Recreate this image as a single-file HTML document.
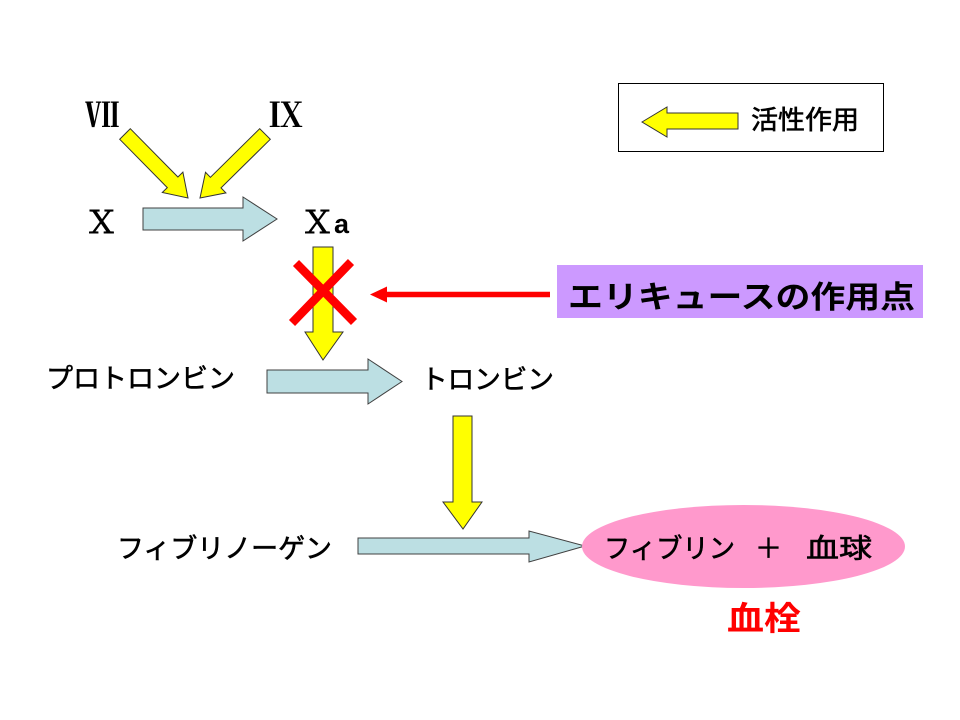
<!DOCTYPE html>
<html><head><meta charset="utf-8"><style>
html,body{margin:0;padding:0;background:#fff;}
svg{display:block;}
text{font-family:"Liberation Sans","Noto Sans CJK JP",sans-serif;fill:#000;}
.serif{font-family:"Liberation Serif","Noto Serif CJK JP",serif;}
.th{stroke:#000;stroke-width:0.6;}
</style></head><body>
<svg width="960" height="720" viewBox="0 0 960 720" xmlns="http://www.w3.org/2000/svg">
<rect x="0" y="0" width="960" height="720" fill="#fff"/>

<!-- Roman numerals -->
<text class="serif" x="102" y="127" font-size="34" font-weight="bold" text-anchor="middle">Ⅶ</text>
<text class="serif" x="286" y="127" font-size="34" font-weight="bold" text-anchor="middle">Ⅸ</text>

<!-- diagonal yellow arrows -->
<polygon points="130.3,128.7 177.9,177.0 182.9,172.1 188,198 162.3,192.5 167.3,187.6 119.7,139.3" fill="#ffff00" stroke="#333" stroke-width="1"/>
<polygon points="270.3,139.3 221.0,187.9 225.9,192.9 200,198 205.5,172.3 210.4,177.3 259.7,128.7" fill="#ffff00" stroke="#333" stroke-width="1"/>

<!-- X -> Xa -->
<text class="serif" x="101.5" y="233" font-size="31" text-anchor="middle" stroke="#000" stroke-width="1.1">Ｘ</text>
<polygon points="143,208 243,208 243,197 277,219 243,241 243,230 143,230" fill="#bcdfe3" stroke="#404040" stroke-width="1"/>
<text class="serif" x="317.5" y="233" font-size="31" text-anchor="middle" stroke="#000" stroke-width="1.1">Ｘ</text>
<text x="334" y="233" font-size="27" font-weight="bold">a</text>

<!-- yellow down arrow 1 -->
<polygon points="313,247 333,247 333,332 343,332 323,360 305,332 313,332" fill="#ffff00" stroke="#333" stroke-width="1"/>

<!-- red X -->
<line x1="296" y1="263" x2="354" y2="322" stroke="#ff0000" stroke-width="8.5"/>
<line x1="351" y1="262" x2="292" y2="323" stroke="#ff0000" stroke-width="8.5"/>

<!-- red arrow -->
<line x1="550" y1="294.5" x2="384" y2="294.5" stroke="#ff0000" stroke-width="5.5"/>
<polygon points="370,294.5 387,286.5 387,302.5" fill="#ff0000"/>

<!-- purple box -->
<rect x="557" y="265" width="366" height="53" fill="#cc99ff"/>
<text x="568" y="308" font-size="31" font-weight="bold" textLength="347" lengthAdjust="spacingAndGlyphs">エリキュースの作用点</text>

<!-- legend -->
<rect x="618.5" y="83.5" width="265" height="68" fill="#fff" stroke="#000" stroke-width="1"/>
<polygon points="642,122 667,107 667,113 738,113 738,129 667,129 667,137" fill="#ffff00" stroke="#333" stroke-width="1"/>
<text class="th" x="751" y="129" font-size="26" textLength="108" lengthAdjust="spacingAndGlyphs">活性作用</text>

<!-- prothrombin -> thrombin -->
<text class="th" x="46" y="388" font-size="27" textLength="189" lengthAdjust="spacingAndGlyphs">プロトロンビン</text>
<polygon points="267,370 368,370 368,359 402,381.5 368,404 368,393 267,393" fill="#bcdfe3" stroke="#404040" stroke-width="1"/>
<text class="th" x="421" y="389" font-size="27" textLength="133" lengthAdjust="spacingAndGlyphs">トロンビン</text>

<!-- yellow down arrow 2 -->
<polygon points="453,416 472,416 472,502 482,502 463,529 443,502 453,502" fill="#ffff00" stroke="#333" stroke-width="1"/>

<!-- fibrinogen -> fibrin -->
<text class="th" x="117" y="558" font-size="27" textLength="215" lengthAdjust="spacingAndGlyphs">フィブリノーゲン</text>
<polygon points="358,538 529,538 529,531 585,546 529,562 529,554 358,554" fill="#bcdfe3" stroke="#404040" stroke-width="1"/>

<ellipse cx="743.5" cy="546.5" rx="161.5" ry="41.5" fill="#ff99cc"/>
<text class="th" x="604" y="558" font-size="27" textLength="131" lengthAdjust="spacingAndGlyphs">フィブリン</text>
<text class="th" x="768.5" y="558" font-size="27" text-anchor="middle">＋</text>
<text class="th" x="806" y="558" font-size="27" textLength="66" lengthAdjust="spacingAndGlyphs">血球</text>

<text x="727" y="630" font-size="33" font-weight="bold" style="fill:#ff0000" textLength="74" lengthAdjust="spacingAndGlyphs">血栓</text>
</svg>
</body></html>
